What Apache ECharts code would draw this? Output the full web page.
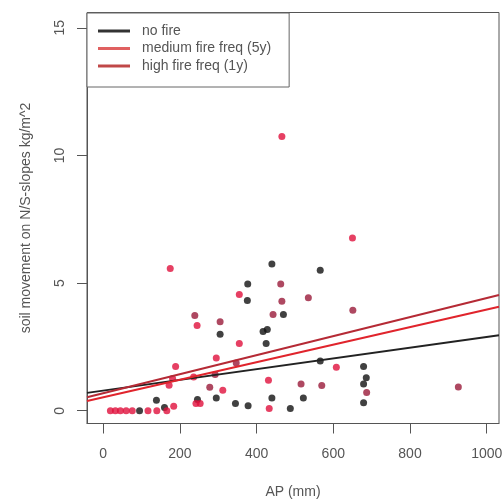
<!DOCTYPE html>
<html>
<head>
<meta charset="utf-8">
<script src="https://cdn.jsdelivr.net/npm/echarts@6/dist/echarts.min.js"></script>
<style>html,body{margin:0;padding:0;background:#fff}#c{width:502px;height:499px}</style>
</head>
<body>
<div id="c"></div>
<script>
// ---- data ----
var xTicks = [0, 200, 400, 600, 800, 1000];
var yTicks = [0, 5, 10, 15];
var noFirePoints = [[95,0],[139,0.41],[160,0.13],[246,0.44],[295,0.50],[305,3.0],[345,0.28],[377,4.96],[376,4.32],[378,0.2],[417,3.10],[428,3.18],[425,2.63],[440,5.75],[440,0.50],[470,3.77],[488,0.09],[522,0.50],[566,5.5],[566,1.95],[679,1.73],[686,1.29],[679,1.05],[679,0.31]];
var mediumFirePoints = [[19,0],[32,0],[45,0],[60,0],[76,0],[117,0],[140,0],[166,0],[175,5.57],[172,1.0],[181,1.26],[189,1.73],[184,0.18],[236,1.32],[245,3.34],[242,0.28],[253,0.28],[295,2.07],[312,0.80],[355,4.55],[355,2.63],[431,1.19],[433,0.09],[466,10.74],[650,6.77],[608,1.70]];
var highFirePoints = [[239,3.73],[305,3.49],[278,0.92],[347,1.87],[292,1.42],[463,4.96],[466,4.29],[535,4.43],[651,3.94],[443,3.77],[516,1.05],[570,0.99],[926,0.93],[687,0.71]];
var noFireLine = [[-42,0.70],[1032,2.96]];
var mediumFireLine = [[-42,0.38],[1032,4.07]];
var highFireLine = [[-42,0.53],[1032,4.53]];
var seriesNames = ['no fire', 'medium fire freq (5y)', 'high fire freq (1y)'];

var txt = '#555';
var font = 'Liberation Sans, Arial, sans-serif';
var chart = echarts.init(document.getElementById('c'), null, {renderer: 'canvas'});
chart.setOption({
  animation: false,
  backgroundColor: '#fff',
  grid: {left: 87, right: 3, top: 12.5, bottom: 75.5, show: true, borderColor: '#555', borderWidth: 1, backgroundColor: 'transparent', containLabel: false, outerBoundsMode: 'none'},
  legend: {
    data: seriesNames,
    orient: 'vertical', left: 87, top: 13,
    padding: [11, 18, 14, 11], itemGap: 3.5,
    itemWidth: 32, itemHeight: 3, icon: 'rect',
    borderColor: '#666', borderWidth: 1, backgroundColor: '#fff',
    textStyle: {fontFamily: font, fontSize: 14, color: txt, padding: [0,0,0,7]}
  },
  xAxis: {
    type: 'value', min: -42, max: 1032,
    name: 'AP (mm)', nameLocation: 'middle', nameGap: 62,
    nameTextStyle: {fontFamily: font, fontSize: 14, color: txt},
    axisLine: {show: true, onZero: false, lineStyle: {color: '#555'}},
    axisTick: {show: true, length: 10, customValues: xTicks, lineStyle: {color: '#555'}},
    axisLabel: {customValues: xTicks, margin: 24, fontFamily: font, fontSize: 14, color: txt, formatter: function (v) { return String(v); }},
    splitLine: {show: false}
  },
  yAxis: {
    type: 'value', min: -0.5, max: 15.6,
    name: 'soil movement on N/S-slopes kg/m^2', nameLocation: 'middle', nameGap: 54,
    nameTextStyle: {fontFamily: font, fontSize: 14, color: txt},
    axisLine: {show: true, onZero: false, lineStyle: {color: '#555'}},
    axisTick: {show: true, length: 10, customValues: yTicks, lineStyle: {color: '#555'}},
    axisLabel: {customValues: yTicks, rotate: 90, margin: 20, fontFamily: font, fontSize: 14, color: txt, formatter: function (v) { return String(v); }},
    splitLine: {show: false}
  },
  series: [
    {type: 'scatter', name: 'pts no fire', data: noFirePoints, symbolSize: 7, itemStyle: {color: '#111'}, z: 3},
    {type: 'scatter', name: 'pts medium', data: mediumFirePoints, symbolSize: 7, itemStyle: {color: '#e0103c'}, z: 3},
    {type: 'scatter', name: 'pts high', data: highFirePoints, symbolSize: 7, itemStyle: {color: '#9a1a3a'}, z: 3},
    {type: 'line', name: seriesNames[0], data: noFireLine, symbol: 'none', lineStyle: {color: '#222', width: 2}, itemStyle: {color: '#333'}, z: 4},
    {type: 'line', name: seriesNames[1], data: mediumFireLine, symbol: 'none', lineStyle: {color: '#e0242c', width: 2}, itemStyle: {color: '#e06060'}, z: 4},
    {type: 'line', name: seriesNames[2], data: highFireLine, symbol: 'none', lineStyle: {color: '#b52a35', width: 2}, itemStyle: {color: '#c04848'}, z: 4}
  ]
});
</script>
</body>
</html>
